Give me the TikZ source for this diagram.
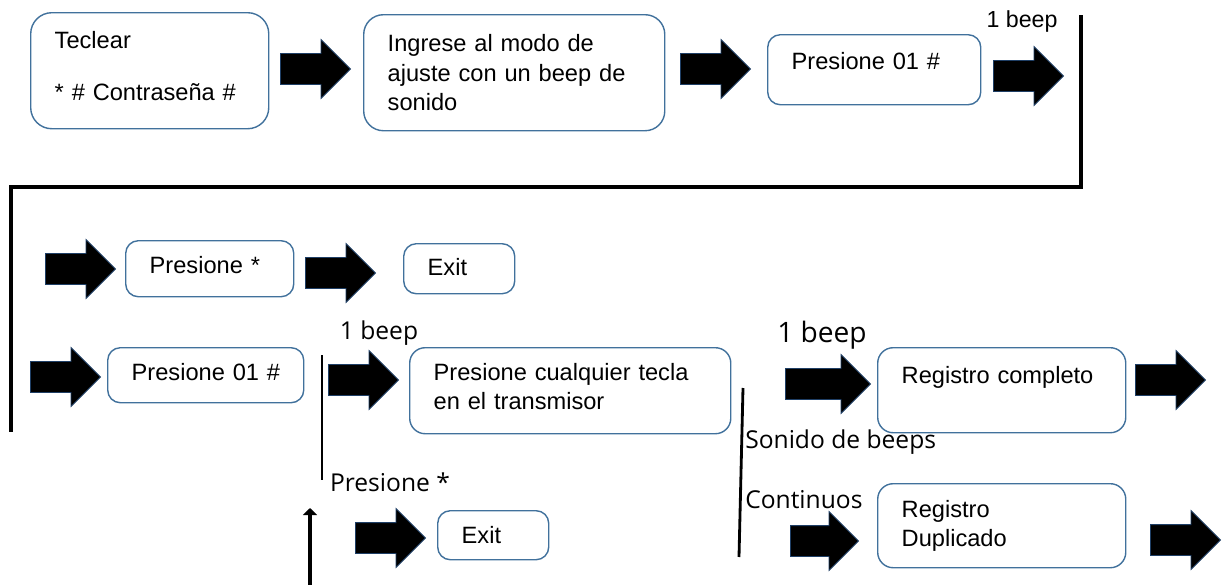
\documentclass[tikz,border=0pt]{standalone}
\usepackage{fontspec}
\setmainfont{Liberation Sans}
\newfontfamily\notefont{Open Sans}
\usepackage{tikz}
\usetikzlibrary{shapes.arrows,arrows.meta}
\definecolor{boxblue}{HTML}{41719C}
\definecolor{arrowedge}{HTML}{1F3F66}
\tikzstyle{Step}=[rectangle, rounded corners=9pt, draw=boxblue, line width=1pt, anchor=north west, align=left, inner xsep=0.6cm, inner ysep=0pt, font=\fontsize{16.8}{21}\selectfont]
\tikzstyle{Push}=[single arrow, fill=black, draw=arrowedge, line width=0.6pt, anchor=tail, minimum height=1.75cm, minimum width=1.45cm, single arrow head extend=0.35cm, inner xsep=0pt, inner ysep=0.375cm]
\tikzstyle{Note}=[font=\notefont\fontsize{17.5}{21}\selectfont, inner sep=0pt]

\begin{document}
\begin{tikzpicture}[x=0.025cm, y=-0.025cm]
    \useasboundingbox (0,0) rectangle (1231,585);
    \path
    (30,12) node[Step, rounded corners=15pt, text width=4.75cm, minimum height=2.9cm, text depth=44pt] (teclear) {Teclear\\[16pt]* \# Contraseña \#}
    (363,14) node[Step, rounded corners=14pt, text width=6.325cm, minimum height=2.9cm] (ajuste) {Ingrese al modo de\\ajuste con un beep de\\sonido}
    (767,34) node[Step, text width=4.125cm, minimum height=1.75cm, text depth=13pt] (cod1) {Presione~01~\#}
    (125,240) node[Step, text width=3cm, minimum height=1.4cm, text depth=6pt] (ast1) {Presione *}
    (403,243) node[Step, text width=1.575cm, minimum height=1.25cm, text depth=3pt] (exit1) {Exit}
    (107,347) node[Step, text width=3.7cm, minimum height=1.375cm, text depth=4pt] (cod2) {Presione~01~\#}
    (409,347) node[Step, rounded corners=11pt, text width=6.825cm, minimum height=2.15cm, text depth=27pt] (tecla) {Presione cualquier tecla\\en el transmisor}
    (877,347) node[Step, rounded corners=11pt, text width=5cm, minimum height=2.125cm, text depth=22pt] (ok) {Registro completo}
    (437,510) node[Step, text width=1.575cm, minimum height=1.225cm] (exit2) {Exit}
    (877,483) node[Step, rounded corners=11pt, text width=5cm, minimum height=2.1cm] (dup) {Registro\\Duplicado};

    % block arrows
    \path
    (280,69) node[Push] (a1) {}
    (680,69) node[Push] (a2) {}
    (993,76) node[Push] (a3) {}
    (45,269) node[Push] (a4) {}
    (305,273) node[Push] (a5) {}
    (30,377) node[Push] (a6) {}
    (328,380) node[Push] (a7) {}
    (785,384) node[Push, minimum height=2.125cm] (a8) {}
    (1135,380) node[Push] (a9) {}
    (355,538) node[Push] (a10) {}
    (790,541) node[Push, minimum height=1.7cm] (a11) {}
    (1150,540) node[Push] (a12) {};

    \path (1022,22) node[font=\fontsize{16.5}{20}\selectfont, inner sep=0pt] (beep1) {1 beep}
    (379,333) node[Note] (beep2) {1 beep}
    (822,335) node[Note, font=\notefont\fontsize{20}{24}\selectfont] (beep3) {1 beep}
    (390,482) node[Note] (ast2) {Presione *}
    (745,442) node[Note, anchor=west] (sonido) {Sonido de beeps}
    (745,500) node[Note, anchor=west] (cont) {Continuos};

    \coordinate (rtop) at (1081,15);
    \coordinate (lcorner) at (11,187);
    \coordinate (lend) at (11,432);
    \coordinate (mtop) at (322,355);
    \coordinate (mend) at (322,480);
    \coordinate (ubot) at (310,585);
    \coordinate (utip) at (310,508);
    \coordinate (stop) at (743,388);
    \coordinate (send) at (739,557);

    \draw[line width=2.2pt] (rtop) |- (lcorner) -- (lend);
    \draw[line width=2pt] (mtop) -- (mend);
    \draw[line width=2pt] (stop) -- (send);
    \draw[line width=3pt, -{Triangle[length=5pt,width=10pt]}] (ubot) -- (utip);
\end{tikzpicture}
\end{document}
